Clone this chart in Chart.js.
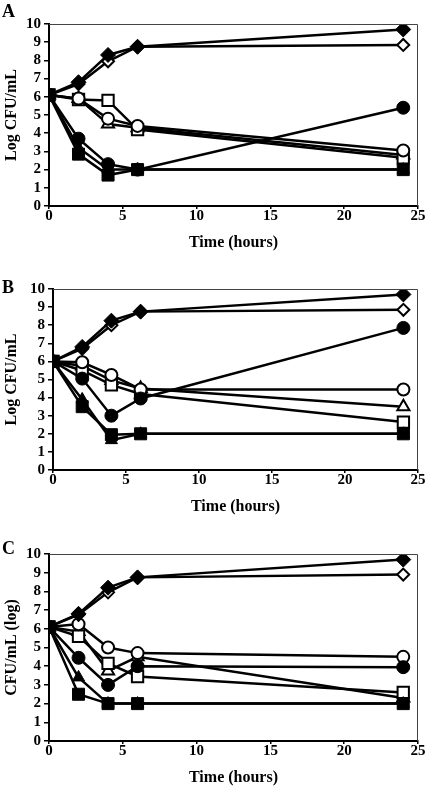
<!DOCTYPE html>
<html>
<head>
<meta charset="utf-8">
<script src="https://cdn.jsdelivr.net/npm/chart.js@4.4.0/dist/chart.umd.min.js"></script>
<style>
  body { margin: 0; background: #fff; width: 428px; height: 786px; position: relative; overflow: hidden; }
  .panel { position: absolute; left: 0; width: 428px; }
  .panel canvas { display: block; }
  .lbl { position: absolute; left: 2px; font-family: 'Liberation Serif', serif; font-weight: bold; font-size: 18px; line-height: 18px; }
</style>
</head>
<body>
<div class="panel" style="top:0"><canvas id="chart-a" width="428" height="255"></canvas></div>
<div class="panel" style="top:260px"><canvas id="chart-b" width="428" height="260"></canvas></div>
<div class="panel" style="top:520px"><canvas id="chart-c" width="428" height="266"></canvas></div>
<div class="lbl" style="top:2px">A</div>
<div class="lbl" style="top:278px">B</div>
<div class="lbl" style="top:539px">C</div>
<script>
'use strict';

// sampling times (hours), same for every panel
const hours = [0, 2, 4, 6, 24];
const xTicks = [0, 5, 10, 15, 20, 25];
const yTicks = [0, 1, 2, 3, 4, 5, 6, 7, 8, 9, 10];

// ---- panel A (log CFU/mL) ----
const aFilledDiamond = [6.1, 6.8, 8.3, 8.75, 9.7];
const aOpenDiamond = [6.1, 6.7, 7.95, 8.75, 8.85];
const aFilledCircle = [6.1, 3.7, 2.3, 2.0, 5.4];
const aOpenCircle = [6.1, 5.9, 4.8, 4.4, 3.05];
const aFilledSquare = [6.1, 2.85, 1.7, 2.0, 2.0];
const aOpenSquare = [6.1, 5.85, 5.8, 4.2, 2.65];
const aFilledTriangle = [6.1, 3.2, 2.0, 2.0, 2.0];
const aOpenTriangle = [6.1, 5.9, 4.5, 4.3, 2.8];

// ---- panel B ----
const bFilledDiamond = [6.0, 6.8, 8.25, 8.75, 9.7];
const bOpenDiamond = [6.0, 6.7, 8.0, 8.75, 8.85];
const bFilledCircle = [6.0, 5.05, 3.0, 3.95, 7.85];
const bOpenCircle = [6.0, 5.95, 5.25, 4.45, 4.45];
const bFilledSquare = [6.0, 3.5, 1.95, 2.0, 2.0];
const bOpenSquare = [6.0, 5.5, 4.7, 4.2, 2.65];
const bFilledTriangle = [6.0, 3.9, 1.65, 2.0, 2.0];
const bOpenTriangle = [6.0, 5.75, 4.95, 4.5, 3.5];

// ---- panel C ----
const cFilledDiamond = [6.1, 6.8, 8.2, 8.75, 9.7];
const cOpenDiamond = [6.1, 6.75, 7.95, 8.75, 8.9];
const cFilledCircle = [6.1, 4.45, 3.0, 4.0, 3.95];
const cOpenCircle = [6.1, 6.25, 5.0, 4.7, 4.5];
const cFilledSquare = [6.1, 2.5, 2.0, 2.0, 2.0];
const cOpenSquare = [6.1, 5.6, 4.15, 3.45, 2.6];
const cFilledTriangle = [6.1, 3.4, 2.0, 2.0, 2.0];
const cOpenTriangle = [6.1, 5.85, 3.75, 4.5, 2.3];

const FONT = "'Liberation Serif', 'Times New Roman', serif";

// marker look for each series, in the same order as the value arrays
// (chart.js paints the first dataset on top, so filled ones come first)
const markers = [
  { style: 'rect', filled: true, r: 8.5 },
  { style: 'rectRot', filled: true, r: 7.5 },
  { style: 'circle', filled: true, r: 6.5 },
  { style: 'triangle', filled: true, r: 7 },
  { style: 'rectRot', filled: false, r: 6 },
  { style: 'circle', filled: false, r: 6 },
  { style: 'rect', filled: false, r: 8 },
  { style: 'triangle', filled: false, r: 7 }
];

function toPoints(values) {
  return values.map((v, i) => ({ x: hours[i], y: v }));
}

// top and right edges of the plot box
const frame = {
  id: 'frame',
  afterDraw(chart) {
    const a = chart.chartArea;
    const c = chart.ctx;
    c.save();
    c.strokeStyle = '#444';
    c.lineWidth = 1;
    c.beginPath();
    c.moveTo(a.left, a.top + 0.5);
    c.lineTo(a.right - 0.5, a.top + 0.5);
    c.lineTo(a.right - 0.5, a.bottom);
    c.stroke();
    c.restore();
  }
};

function makePanel(id, series, yTitle, padTop, yWidth, xHeight, xTitlePad) {
  const datasets = [];
  for (let i = 0; i < series.length; i++) {
    let m = markers[i];
    datasets.push({
      data: toPoints(series[i]),
      showLine: true,
      borderColor: '#000',
      borderWidth: 2.5,
      pointStyle: m.style,
      pointRadius: m.r,
      pointBackgroundColor: m.filled ? '#000' : '#fff',
      pointBorderColor: '#000',
      pointBorderWidth: m.filled ? 1 : 2
    });
  }

  return new Chart(document.getElementById(id), {
    type: 'scatter',
    data: { datasets: datasets },
    plugins: [frame],
    options: {
      responsive: false,
      animation: false,
      layout: { padding: { top: padTop, right: 7, left: 0, bottom: 0 } },
      plugins: { legend: { display: false }, tooltip: { enabled: false } },
      scales: {
        x: {
          type: 'linear', min: 0, max: 25,
          afterBuildTicks: (s) => { s.ticks = xTicks.map(v => ({ value: v })); },
          afterFit: (s) => { s.height = xHeight; s.paddingLeft = 0; s.paddingRight = 0; },
          grid: { drawOnChartArea: false, drawTicks: true, tickLength: 3, color: '#000', lineWidth: 1.5 },
          border: { color: '#000', width: 2 },
          ticks: { color: '#000', padding: 0, maxRotation: 0, autoSkip: false, font: { family: FONT, size: 15, weight: 'bold', lineHeight: 1 } },
          title: { display: true, text: 'Time (hours)', color: '#000', padding: { top: 0, bottom: xTitlePad }, font: { family: FONT, size: 16, weight: 'bold', lineHeight: 1 } }
        },
        y: {
          type: 'linear', min: 0, max: 10,
          afterBuildTicks: (s) => { s.ticks = yTicks.map(v => ({ value: v })); },
          afterFit: (s) => { s.width = yWidth; s.paddingTop = 0; s.paddingBottom = 0; },
          grid: { drawOnChartArea: false, drawTicks: true, tickLength: 5, color: '#000', lineWidth: 1.5 },
          border: { color: '#000', width: 2 },
          ticks: { color: '#000', padding: 3, autoSkip: false, font: { family: FONT, size: 15, weight: 'bold', lineHeight: 1 } },
          title: { display: true, text: yTitle, color: '#000', padding: { top: 4, bottom: 0 }, font: { family: FONT, size: 16, weight: 'bold', lineHeight: 1 } }
        }
      }
    }
  });
}

makePanel('chart-a',
  [aFilledSquare, aFilledDiamond, aFilledCircle, aFilledTriangle, aOpenDiamond, aOpenCircle, aOpenSquare, aOpenTriangle],
  'Log CFU/mL', 24, 49, 49, 4);
makePanel('chart-b',
  [bFilledSquare, bFilledDiamond, bFilledCircle, bFilledTriangle, bOpenDiamond, bOpenCircle, bOpenSquare, bOpenTriangle],
  'Log CFU/mL', 29, 53, 50, 5);
makePanel('chart-c',
  [cFilledSquare, cFilledDiamond, cFilledCircle, cFilledTriangle, cOpenDiamond, cOpenCircle, cOpenSquare, cOpenTriangle],
  'CFU/mL (log)', 34, 49, 45, 0);
</script>
</body>
</html>
